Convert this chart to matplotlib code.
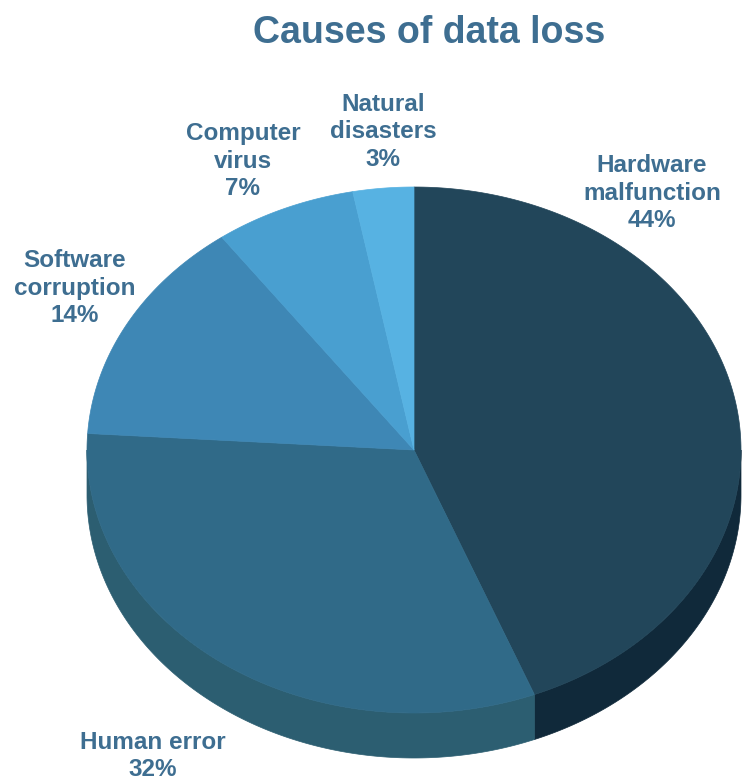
""" 3D-looking pie chart: causes of data loss """
import numpy as np
import matplotlib.pyplot as plt
from matplotlib.patches import Polygon

# Data
labels = ["Hardware\nmalfunction", "Human error", "Software\ncorruption",
          "Computer\nvirus", "Natural\ndisasters"]
shares = [44, 32, 14, 7, 3]

# Styling / layout
top_colors = ["#22465a", "#306a88", "#3e87b5", "#499fd0", "#57b2e2"]
side_colors = ["#10293a", "#2c5e71", "#2f6f93", "#3a85b0", "#4a9ccc"]
text_color = "#3e6e91"
label_pos = [(652, 193), (153, 756), (75, 288), (243, 161), (383, 132)]

plt.rcParams['font.family'] = ['Liberation Sans', 'DejaVu Sans']

fig = plt.figure(figsize=(7.42, 7.81), dpi=100)
ax = fig.add_axes([0, 0, 1, 1])
ax.set_xlim(0, 742)
ax.set_ylim(781, 0)
ax.axis('off')

# ellipse geometry (pixels)
cx, cy, rx, ry, depth = 414, 450, 327, 263, 45


def arc(t0, t1, n=200):
    t = np.radians(np.linspace(t0, t1, n))
    return np.column_stack([cx + rx*np.cos(t), cy - ry*np.sin(t)])


# slice angles, clockwise from 12 o'clock
fracs = np.array(shares) / np.sum(shares)
ends = 90 - 360*np.cumsum(fracs)
starts = np.concatenate([[90], ends[:-1]])

# side walls (front half only: -180 < t < 0)
for k in range(len(shares)):
    a0, a1 = ends[k], starts[k]
    lo, hi = max(a0, -180), min(a1, 0)
    if lo < hi:
        top = arc(hi, lo)
        bot = top[::-1] + [0, depth]
        ax.add_patch(Polygon(np.vstack([top, bot]), closed=True,
                             fc=side_colors[k], ec=side_colors[k], lw=0.5))

# top faces
for k in range(len(shares)):
    pts = np.vstack([[cx, cy], arc(starts[k], ends[k])])
    ax.add_patch(Polygon(pts, closed=True, fc=top_colors[k],
                         ec=top_colors[k], lw=0.5))

# labels
for k in range(len(shares)):
    x, y = label_pos[k]
    ax.text(x, y, "%s\n%d%%" % (labels[k], shares[k]), ha='center', va='center',
            fontsize=17.5, fontweight='bold', color=text_color, linespacing=1.24)

ax.text(429, 33, "Causes of data loss", ha='center', va='center',
        fontsize=27, fontweight='bold', color=text_color)

fig.savefig("out.png", dpi=100)
